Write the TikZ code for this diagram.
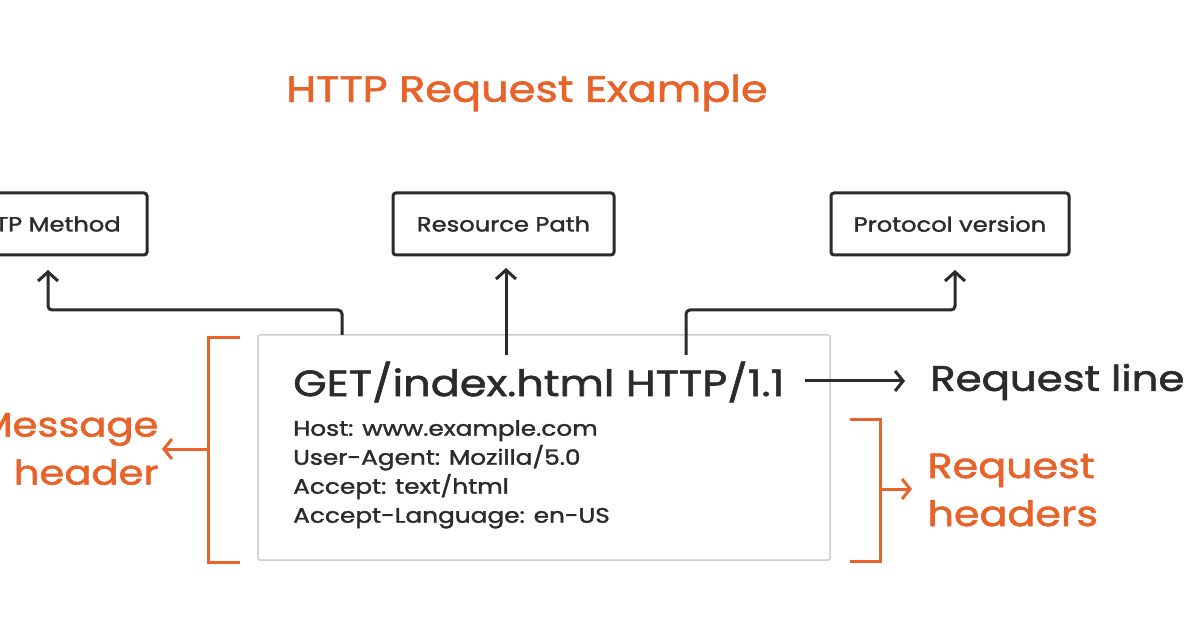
\documentclass[tikz,border=0pt]{standalone}
\usepackage{fontspec}
\setmainfont{Poppins}[FakeStretch=1.18,FakeBold=1.6]
\usetikzlibrary{positioning,arrows.meta}
\definecolor{httporange}{HTML}{E8622A}
\definecolor{httpdark}{HTML}{2B2B2B}
\tikzset{
	labelbox/.style={draw=httpdark,line width=3pt,rounded corners=3pt,minimum height=62pt,font=\fontsize{20.5}{24}\selectfont,text=httpdark},
	uparrow/.style={draw=httpdark,line width=3pt,-{Straight Barb[length=9pt,width=20pt]},rounded corners=4pt},
	bracket/.style={draw=httporange,line width=3pt},
	orangearrow/.style={draw=httporange,line width=3pt,-{Straight Barb[length=8pt,width=20pt]}},
	orangetext/.style={text=httporange,font=\fontsize{35}{48}\selectfont,align=left}
}
\begin{document}
\begin{tikzpicture}[x=1pt,y=-1pt]
	\useasboundingbox (0,0) rectangle (1200,628);
	\fill[white] (0,0) rectangle (1200,628);
	%Title
	\node[text=httporange,font=\fontsize{36.5}{40}\selectfont] (title) at (527,93) {HTTP Request Example};
	%Label boxes on top
	\node[labelbox,minimum width=208pt] (method) at (43,224) {HTTP Method};
	\node[labelbox,minimum width=221pt] (path) at (503.5,224) {Resource Path};
	\node[labelbox,minimum width=238pt] (version) at (950,224) {Protocol version};
	%The request
	\draw[draw=black!20,line width=1.5pt,rounded corners=2pt] (258,335) rectangle (830,560);
	\node[anchor=west,font=\fontsize{36.5}{40}\selectfont,text=httpdark,inner sep=0pt] (line) at (293,382) {GET/index.html HTTP/1.1};
	\node[anchor=north west,font=\fontsize{21}{29}\selectfont,text=httpdark,align=left,inner sep=0pt] (headers) at (293,420)
		{Host: www.example.com\\User-Agent: Mozilla/5.0\\Accept: text/html\\Accept-Language: en-US};
	%Arrows to the label boxes
	\coordinate (methodfoot) at (342,335);
	\coordinate (pathfoot) at (506,355);
	\coordinate (versionfoot) at (686,355);
	\draw[uparrow] (methodfoot) -- (342,310) -- (48,310) -- (48,270);
	\draw[uparrow] (pathfoot) -- (506,268);
	\draw[uparrow] (versionfoot) -- (686,310) -- (955,310) -- (955,270);
	%Request line
	\node[anchor=west,font=\fontsize{35.5}{40}\selectfont,text=httpdark,inner sep=0pt] (reqline) at (930,382) {Request line};
	\coordinate (lineend) at (805,381);
	\draw[draw=httpdark,line width=3pt,-{Straight Barb[length=8pt,width=20pt]}] (lineend) -- (905,381);
	%Message header
	\draw[bracket] (240,338) -- (208,338) -- (208,562) -- (240,562);
	\node[orangetext,anchor=east,align=right,font=\fontsize{34}{48}\selectfont] (msg) at (162,449) {Message\\header};
	\coordinate (msgfoot) at (208,449);
	\draw[orangearrow] (msgfoot) -- (msg.east);
	%Request headers
	\draw[bracket] (850,419) -- (880,419) -- (880,561) -- (850,561);
	\node[orangetext,anchor=west] (reqheaders) at (924,490) {Request\\headers};
	\coordinate (reqfoot) at (880,489);
	\draw[orangearrow] (reqfoot) -- (912,489);
\end{tikzpicture}
\end{document}
